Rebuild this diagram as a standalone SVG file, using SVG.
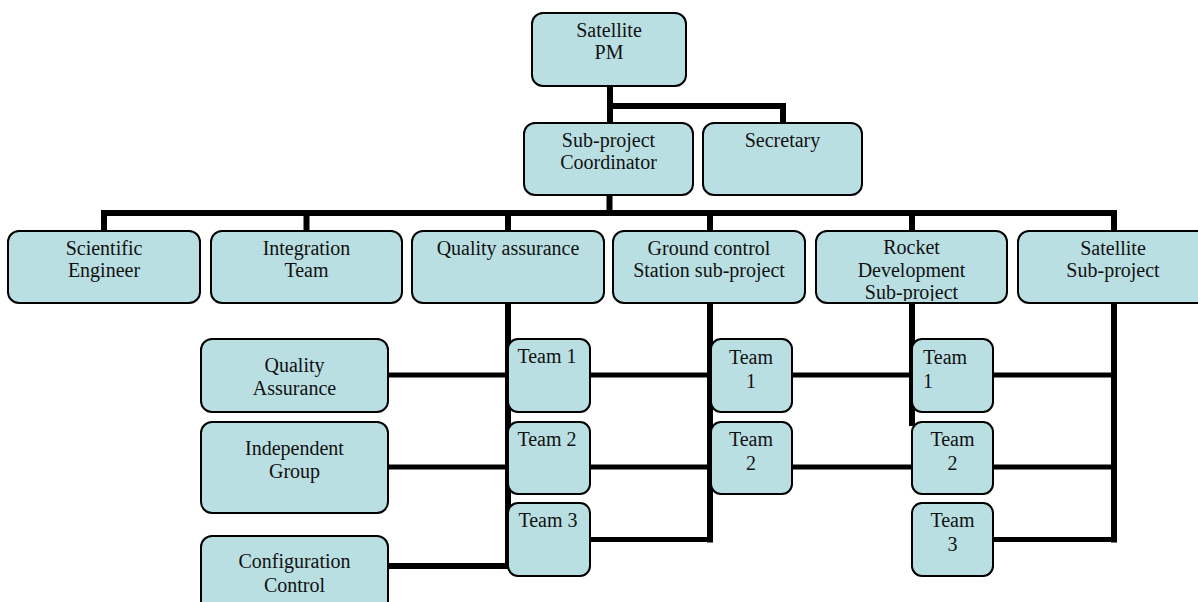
<svg xmlns="http://www.w3.org/2000/svg" width="1198" height="602" viewBox="0 0 1198 602">
<style>
.box{fill:#B9DFE2;stroke:#000;stroke-width:2}
.t{font-family:"Liberation Serif","Times New Roman",serif;font-size:20px;fill:#111;text-anchor:middle}
.tl{font-family:"Liberation Serif","Times New Roman",serif;font-size:20px;fill:#111;text-anchor:start}
.c{stroke:#000;fill:none;stroke-linecap:square;stroke-linejoin:miter}
.w6{stroke-width:6}
.w5{stroke-width:5}
</style>
<defs>
<clipPath id="clipRocket"><rect x="816" y="231" width="191" height="70"/></clipPath>
</defs>
<rect width="1198" height="602" fill="#fff"/>
<g id="connectors">
<path class="c w6" d="M610 86 V123 M610 106 H783 V123"/>
<path class="c w6" d="M609.5 195 V213 M104 213 H1114 M104 213 V231 M306.5 213 V231 M508 213 V231 M710 213 V231 M912 213 V231 M1114 213 V231"/>
<path class="c w6" d="M508 303 V566 H388"/>
<path class="c w5" d="M388 375 H508 M388 467 H508"/>
<path class="c w5" d="M590 375 H711 M590 467 H711 M590 539.5 H710"/>
<path class="c w6" d="M710 303 V539.5"/>
<path class="c w5" d="M792 375 H912 M792 467 H912"/>
<path class="c w6" d="M912 303 V423"/>
<path class="c w5" d="M993 375 H1114 M993 467 H1114 M993 539.5 H1114"/>
<path class="c w6" d="M1114 303 V539.5"/>
</g>
<g id="satellite-pm"><rect class="box" x="532" y="13" width="154" height="73" rx="11"/><text class="t" x="609" y="37">Satellite</text><text class="t" x="609" y="59">PM</text></g>
<g id="coordinator"><rect class="box" x="524" y="123" width="169" height="72" rx="11"/><text class="t" x="608.5" y="147">Sub-project</text><text class="t" x="608.5" y="169">Coordinator</text></g>
<g id="secretary"><rect class="box" x="703" y="123" width="159" height="72" rx="11"/><text class="t" x="782.5" y="147">Secretary</text></g>
<g id="scientific"><rect class="box" x="8" y="231" width="192" height="72" rx="11"/><text class="t" x="104" y="255">Scientific</text><text class="t" x="104" y="277">Engineer</text></g>
<g id="integration"><rect class="box" x="211" y="231" width="191" height="72" rx="11"/><text class="t" x="306.5" y="255">Integration</text><text class="t" x="306.5" y="277">Team</text></g>
<g id="quality"><rect class="box" x="412" y="231" width="192" height="72" rx="11"/><text class="t" x="508" y="255">Quality assurance</text></g>
<g id="ground"><rect class="box" x="613" y="231" width="192" height="72" rx="11"/><text class="t" x="709" y="255">Ground control</text><text class="t" x="709" y="277">Station sub-project</text></g>
<g id="rocket"><rect class="box" x="816" y="231" width="191" height="72" rx="11"/><g clip-path="url(#clipRocket)"><text class="t" x="911.5" y="254">Rocket</text><text class="t" x="911.5" y="277">Development</text><text class="t" x="911.5" y="299">Sub-project</text></g></g>
<g id="satellite-sub"><rect class="box" x="1018" y="231" width="192" height="72" rx="11"/><text class="t" x="1113" y="255">Satellite</text><text class="t" x="1113" y="277">Sub-project</text></g>
<g id="qa-left"><rect class="box" x="201" y="339" width="187" height="73" rx="11"/><text class="t" x="294.5" y="372">Quality</text><text class="t" x="294.5" y="395">Assurance</text></g>
<g id="independent"><rect class="box" x="201" y="422" width="187" height="91" rx="11"/><text class="t" x="294.5" y="455">Independent</text><text class="t" x="294.5" y="478">Group</text></g>
<g id="configuration"><rect class="box" x="201" y="536" width="187" height="80" rx="11"/><text class="t" x="294.5" y="568">Configuration</text><text class="t" x="294.5" y="592">Control</text></g>
<g id="qa-team1"><rect class="box" x="508" y="339" width="82" height="73" rx="10"/><text class="t" x="547" y="363">Team 1</text></g>
<g id="qa-team2"><rect class="box" x="508" y="422" width="82" height="72" rx="10"/><text class="t" x="547" y="446">Team 2</text></g>
<g id="qa-team3"><rect class="box" x="508" y="503" width="82" height="73" rx="10"/><text class="t" x="548" y="527">Team 3</text></g>
<g id="gc-team1"><rect class="box" x="711" y="339" width="81" height="73" rx="10"/><text class="t" x="751" y="364">Team</text><text class="t" x="751" y="388">1</text></g>
<g id="gc-team2"><rect class="box" x="711" y="422" width="81" height="72" rx="10"/><text class="t" x="751" y="446">Team</text><text class="t" x="751" y="470">2</text></g>
<g id="rd-team1"><rect class="box" x="912" y="339" width="81" height="73" rx="10"/><text class="tl" x="923" y="364">Team</text><text class="tl" x="923" y="388">1</text></g>
<g id="rd-team2"><rect class="box" x="912" y="422" width="81" height="72" rx="10"/><text class="t" x="952.5" y="446">Team</text><text class="t" x="952.5" y="470">2</text></g>
<g id="rd-team3"><rect class="box" x="912" y="503" width="81" height="73" rx="10"/><text class="t" x="952.5" y="527">Team</text><text class="t" x="952.5" y="551">3</text></g>
</svg>
